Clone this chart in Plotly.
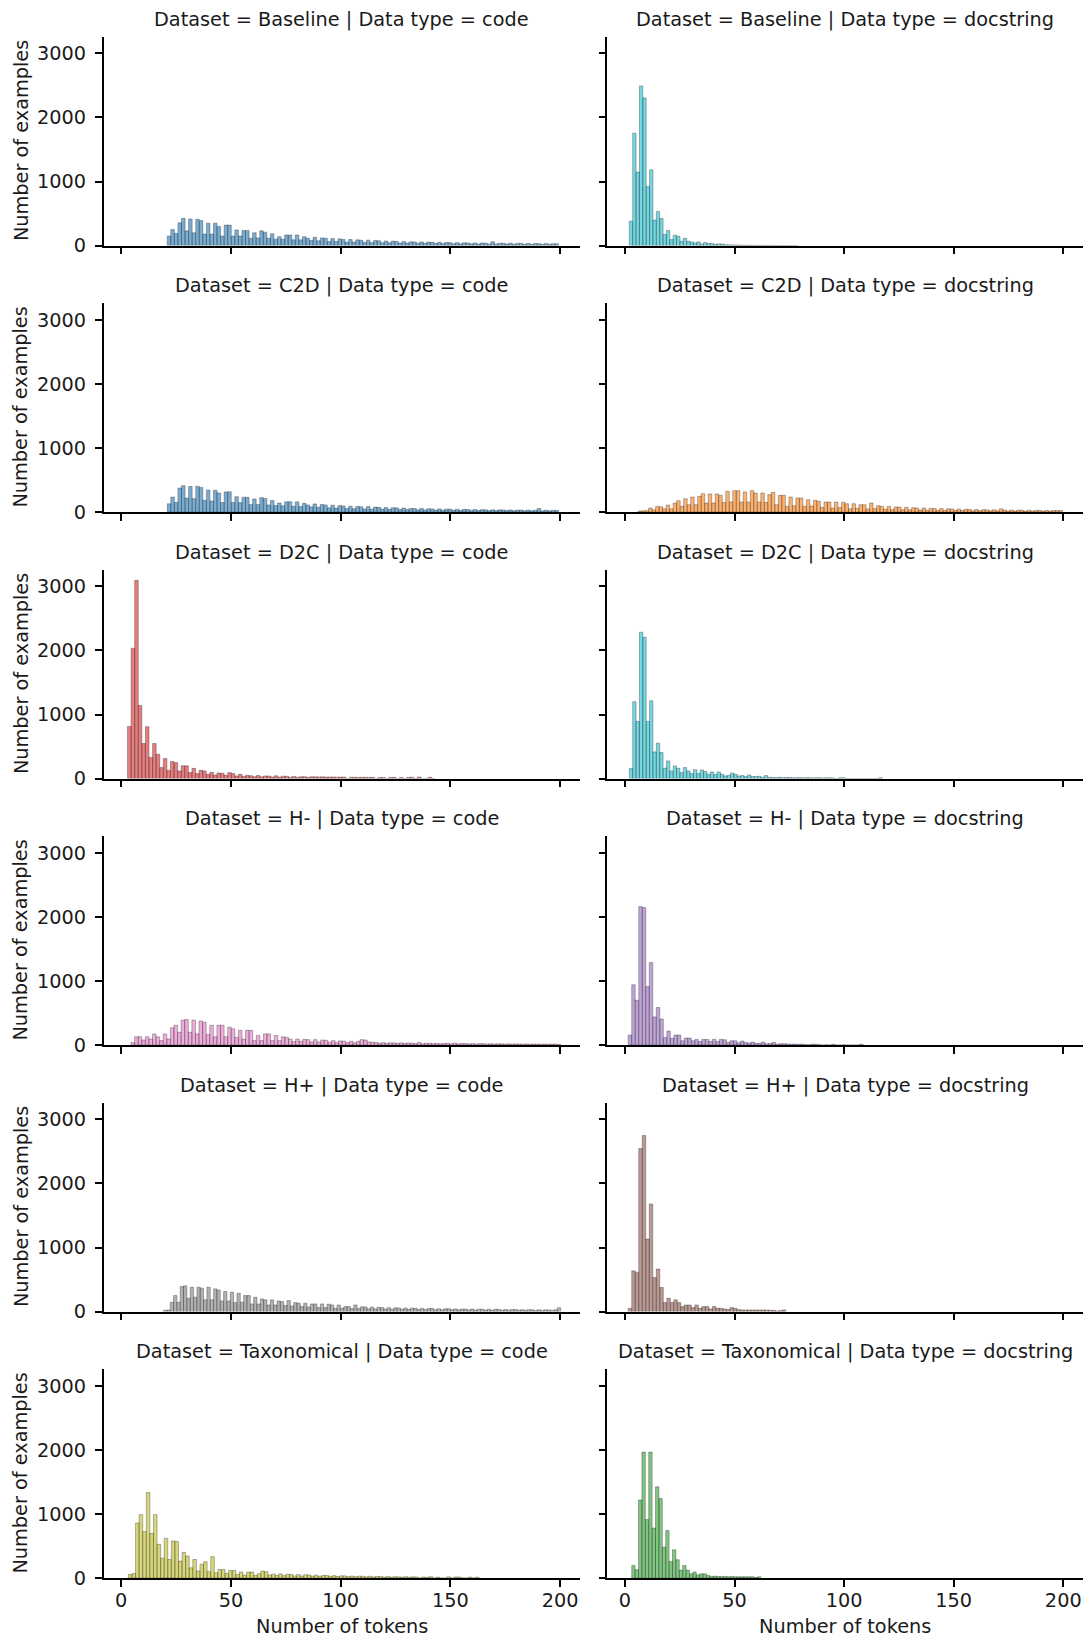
import plotly.graph_objects as go

# ---------------- data ----------------
DATASETS = ["Baseline", "C2D", "D2C", "H-", "H+", "Taxonomical"]
DATA_TYPES = ["code", "docstring"]
X_TICKS = [0, 50, 100, 150, 200]
Y_TICKS = [0, 1000, 2000, 3000]
X_LABEL = "Number of tokens"
Y_LABEL = "Number of examples"

# histogram counts per bin (bins start at BIN_START, width BIN_WIDTH)
BASELINE_CODE = [150, 250, 190, 355, 425, 230, 415, 200, 410, 390, 180, 350, 180, 350, 300, 150, 320, 320, 150, 245,
                 150, 235, 235, 115, 200, 120, 230, 210, 115, 185, 100, 140, 100, 165, 165, 90, 165, 90, 140, 115,
                 80, 130, 75, 120, 115, 65, 110, 65, 105, 95, 55, 95, 55, 90, 85, 50, 85, 48, 80, 75,
                 45, 72, 45, 70, 65, 40, 65, 40, 60, 58, 36, 58, 35, 55, 52, 32, 52, 32, 48, 46,
                 30, 46, 28, 44, 42, 27, 42, 26, 40, 38, 25, 60, 26, 38, 36, 24, 36, 22, 34, 33,
                 21, 33, 21, 32, 30, 20, 31, 20, 30, 28]
BASELINE_DOCSTRING = [382, 1754, 1147, 2492, 2304, 921, 1183, 398, 534, 424, 173, 236, 94, 162, 147, 68, 115, 68, 58, 42,
                      58, 26, 47, 31, 31, 21, 26, 26, 15, 12, 10, 8, 9, 6, 5, 6, 4, 3, 4, 3,
                      2, 2, 3, 1, 2, 1, 1, 0, 1, 1]
C2D_CODE = [130, 235, 152, 376, 413, 220, 400, 210, 402, 385, 185, 345, 175, 340, 300, 150, 315, 318, 150, 240,
            148, 232, 230, 118, 205, 118, 226, 212, 112, 182, 102, 142, 98, 160, 162, 92, 160, 88, 138, 112,
            82, 128, 76, 118, 112, 66, 108, 64, 102, 96, 56, 92, 54, 88, 84, 50, 86, 46, 78, 74,
            46, 70, 44, 68, 66, 40, 64, 40, 58, 56, 36, 56, 34, 54, 50, 32, 50, 31, 46, 46,
            30, 44, 28, 42, 40, 26, 40, 26, 38, 36, 24, 36, 25, 36, 34, 24, 34, 22, 32, 32,
            20, 32, 20, 30, 56, 20, 30, 20, 28, 26]
C2D_DOCSTRING = [16, 21, 21, 63, 37, 89, 84, 52, 110, 52, 141,
                 178, 90, 209, 115, 235, 115, 246, 288, 141, 283,
                 141, 283, 262, 150, 325, 160, 335, 335, 157, 314,
                 157, 335, 298, 157, 298, 150, 272, 309, 115, 262,
                 262, 89, 235, 100, 220, 220, 89, 194, 95, 183,
                 168, 73, 157, 157, 63, 157, 70, 152, 131, 52,
                 131, 60, 115, 115, 50, 141, 55, 100, 89, 45,
                 89, 40, 80, 78, 37, 75, 36, 68, 63, 33,
                 63, 31, 58, 55, 30, 55, 28, 52, 50, 26,
                 48, 26, 44, 42, 22, 40, 21, 37, 36, 20,
                 36, 20, 52, 33, 18, 31, 17, 30, 29, 16,
                 28, 16, 27, 26, 15, 26, 15, 25, 24, 24]
D2C_CODE = [815, 2035, 3095, 1140, 548, 810, 330, 548, 380, 172, 313, 130, 266, 250, 120, 200, 200, 94, 160, 78,
            130, 120, 68, 100, 57, 89, 83, 52, 94, 78, 42, 68, 36, 52,
            45, 30, 48, 28, 42, 40, 25, 44, 24, 38, 36, 22, 34, 22, 30, 30, 20, 28, 28, 26,
            28, 24, 26, 26, 22, 24, 24, 0, 22, 20, 18, 22, 20, 18, 20, 0, 18, 16, 0, 18,
            20, 0, 16, 0, 18, 22, 0, 26, 0, 0, 20, 0]
D2C_DOCSTRING = [156, 1200, 892, 2285, 2207, 892, 1215, 417, 553, 407, 162, 276, 120, 198, 162, 94, 172, 120, 78, 140,
                 78, 136, 110, 68, 104, 63, 104, 68, 42, 52, 89, 68, 42, 47, 31, 57, 31, 31, 36, 21,
                 47, 21,
                 18, 15, 20, 14, 16, 18, 12, 15, 16, 12, 14, 14, 10, 14, 12, 10, 12, 12, 9, 0,
                 14, 12, 0, 0, 0, 0, 0, 0, 0, 0, 0, 0, 14]
HMINUS_CODE = [40, 130, 130, 80, 130, 95, 175, 130, 70, 175, 95, 270, 310, 200, 390, 400, 200, 390, 175, 375,
               355, 165, 310, 130, 310, 310, 130, 280, 255, 120, 230, 95, 230, 230, 70, 150, 70, 175, 175, 70,
               150, 70, 130, 120,
               95, 55, 95, 60, 90, 85, 50, 85, 48, 80, 75, 45, 70, 42, 65, 62, 38, 60, 36, 58,
               85, 80, 50, 44, 40, 30, 38, 28, 36, 34, 26, 35, 25, 33, 32, 24, 40, 22, 30, 29,
               22, 28, 20, 27, 26, 19, 30, 18, 25, 24, 17, 24, 16, 23, 22, 15, 22, 15, 21, 20,
               14, 20, 14, 19, 18, 13, 18, 13, 17, 17, 12, 17, 12, 16, 16, 12]
HMINUS_DOCSTRING = [157, 942, 700, 2162, 2147, 916, 1288, 440, 586, 408, 120, 220, 105, 157, 157, 68, 110, 110, 68, 89,
                    58, 89, 89, 58, 89, 58, 89, 84, 42, 68, 68, 37, 63, 42, 31, 47, 26, 26, 47, 21,
                    26, 42, 16, 21, 21, 18, 15, 16, 12, 15,
                    8, 6, 14, 12, 6, 0, 5, 0, 12, 0, 0, 4, 0, 0, 0, 0, 12]
HPLUS_CODE = [21, 26, 146, 250, 146, 391, 402, 209, 381, 224, 381, 365, 183, 381, 183, 355, 339, 167, 313, 167,
              303, 141, 287, 146, 250, 250, 120, 224, 120, 198, 183, 104, 183, 104, 167, 157, 94, 172, 89, 141,
              130, 78, 130, 73, 120, 120, 63, 120, 63, 115, 104, 52, 104, 52, 78, 78, 47, 104, 47,
              75, 72, 44, 70, 42, 66, 64, 40, 62, 38, 60, 58, 36, 56, 35, 54, 52, 32, 50, 31,
              48, 47, 30, 46, 29, 45, 44, 28, 42, 27, 41, 40, 26, 39, 25, 38, 37, 24, 36, 23,
              35, 34, 22, 33, 22, 32, 31, 21, 30, 20, 30, 29, 19, 28, 19, 27, 26, 18, 30, 60]
HPLUS_DOCSTRING = [52, 636, 615, 2545, 2750, 1132, 1680, 532, 663, 376, 141, 209, 141, 183, 141, 78, 104, 104, 63, 104,
                   52, 78, 78, 42, 78, 52, 52, 42, 31, 63, 52, 31, 26, 26, 26, 26, 26, 26, 26, 26,
                   21, 21, 10, 16, 26]
TAXO_CODE = [57, 70, 860, 990, 725, 1335, 695, 990, 527, 313, 620, 290, 580, 570, 265, 400, 345, 160, 290, 110,
             215, 255, 100, 335, 84, 135, 135, 73, 120, 120, 57, 94, 47, 94, 94, 42, 68, 110, 100, 47,
             62, 40, 66, 38, 60, 58, 34, 55, 32, 52, 48, 30, 46, 28, 42, 40, 26, 38, 25, 36,
             34, 22, 32, 22, 30, 28, 20, 28, 18, 26, 24, 16, 24, 15, 22, 20, 14, 22, 14, 20,
             18, 0, 16, 12, 22, 0, 14, 0, 0, 20, 0, 18, 16, 0, 0, 16, 0, 14]
TAXO_DOCSTRING = [198, 130, 1220, 1967, 913, 1967, 782, 1424, 1241, 485, 741, 260, 443, 287, 125, 198, 125, 68, 94, 52,
                  68, 68, 42, 26, 31, 26, 26, 26, 21, 26, 21, 21, 21, 21, 21, 21, 10, 21]

COUNTS = {
    ("Baseline", "code"): BASELINE_CODE, ("Baseline", "docstring"): BASELINE_DOCSTRING,
    ("C2D", "code"): C2D_CODE, ("C2D", "docstring"): C2D_DOCSTRING,
    ("D2C", "code"): D2C_CODE, ("D2C", "docstring"): D2C_DOCSTRING,
    ("H-", "code"): HMINUS_CODE, ("H-", "docstring"): HMINUS_DOCSTRING,
    ("H+", "code"): HPLUS_CODE, ("H+", "docstring"): HPLUS_DOCSTRING,
    ("Taxonomical", "code"): TAXO_CODE, ("Taxonomical", "docstring"): TAXO_DOCSTRING,
}
BIN_START = {
    ("Baseline", "code"): 21.0, ("Baseline", "docstring"): 2.0,
    ("C2D", "code"): 21.0, ("C2D", "docstring"): 6.0,
    ("D2C", "code"): 2.9, ("D2C", "docstring"): 2.0,
    ("H-", "code"): 4.5, ("H-", "docstring"): 1.5,
    ("H+", "code"): 19.3, ("H+", "docstring"): 1.5,
    ("Taxonomical", "code"): 3.3, ("Taxonomical", "docstring"): 3.1,
}
BIN_WIDTH = {
    ("Baseline", "code"): 1.62, ("Baseline", "docstring"): 1.54,
    ("C2D", "code"): 1.62, ("C2D", "docstring"): 1.6,
    ("D2C", "code"): 1.63, ("D2C", "docstring"): 1.54,
    ("H-", "code"): 1.63, ("H-", "docstring"): 1.6,
    ("H+", "code"): 1.52, ("H+", "docstring"): 1.6,
    ("Taxonomical", "code"): 1.63, ("Taxonomical", "docstring"): 1.55,
}

# ---------------- style ----------------
COLORS = {
    ("Baseline", "code"): (31, 119, 180), ("Baseline", "docstring"): (23, 190, 207),
    ("C2D", "code"): (31, 119, 180), ("C2D", "docstring"): (255, 127, 14),
    ("D2C", "code"): (214, 39, 40), ("D2C", "docstring"): (23, 190, 207),
    ("H-", "code"): (227, 119, 194), ("H-", "docstring"): (148, 103, 189),
    ("H+", "code"): (127, 127, 127), ("H+", "docstring"): (140, 86, 75),
    ("Taxonomical", "code"): (188, 189, 34), ("Taxonomical", "docstring"): (44, 160, 44),
}

W, H = 1092, 1638
FONT = "DejaVu Sans"
FS = 19.3
TXT = "#1a1a1a"

COL_X = [(103.6, 580.0), (607.4, 1083.0)]
ROW_BOTTOM0 = 245.6
ROW_PITCH = 266.5
AX_H = 209.0
X_RANGE = [-8.0, 209.0]
Y_RANGE = [0, 3262]

fig = go.Figure()
annotations = []
layout_axes = {}

for r, ds in enumerate(DATASETS):
    yb = ROW_BOTTOM0 + ROW_PITCH * r
    yt = yb - AX_H
    for c, dt in enumerate(DATA_TYPES):
        k = r * 2 + c
        key = (ds, dt)
        xid = "x" if k == 0 else f"x{k + 1}"
        yid = "y" if k == 0 else f"y{k + 1}"
        counts = COUNTS[key]
        s, w = BIN_START[key], BIN_WIDTH[key]
        centers = [s + w * (i + 0.5) for i in range(len(counts))]
        rr, gg, bb = COLORS[key]
        fig.add_trace(go.Bar(
            x=centers, y=counts, width=[w] * len(counts),
            marker=dict(color=f"rgba({rr},{gg},{bb},0.6)",
                        line=dict(color="rgba(30,30,30,0.55)", width=0.6)),
            xaxis=xid, yaxis=yid, showlegend=False, hoverinfo="skip",
        ))
        x0, x1 = COL_X[c]
        common = dict(showline=True, linecolor="black", linewidth=1.5, ticks="outside",
                      ticklen=7, tickwidth=1.5, tickcolor="black", showgrid=False,
                      zeroline=False, automargin=False,
                      tickfont=dict(family=FONT, size=FS, color=TXT))
        layout_axes["xaxis" if k == 0 else f"xaxis{k + 1}"] = dict(
            common, domain=[x0 / W, x1 / W], anchor=yid, range=X_RANGE,
            tickmode="array", tickvals=X_TICKS, showticklabels=(r == len(DATASETS) - 1),
            ticklabelstandoff=-3)
        layout_axes["yaxis" if k == 0 else f"yaxis{k + 1}"] = dict(
            common, domain=[1 - yb / H, 1 - yt / H], anchor=xid, range=Y_RANGE,
            tickmode="array", tickvals=Y_TICKS, showticklabels=(c == 0),
            ticklabelstandoff=5)
        annotations.append(dict(
            text=f"Dataset = {ds} | Data type = {dt}", x=(x0 + x1) / 2 / W,
            y=1 - (yt - 17.5) / H, xref="paper", yref="paper", showarrow=False,
            xanchor="center", yanchor="middle", font=dict(family=FONT, size=FS, color=TXT)))
        if c == 0:
            annotations.append(dict(
                text=Y_LABEL, x=21 / W, y=1 - (yb + yt) / 2 / H, xref="paper", yref="paper",
                showarrow=False, textangle=-90, xanchor="center", yanchor="middle",
                font=dict(family=FONT, size=FS, color=TXT)))
        if r == len(DATASETS) - 1:
            annotations.append(dict(
                text=X_LABEL, x=(x0 + x1) / 2 / W, y=1 - 1626 / H, xref="paper", yref="paper",
                showarrow=False, xanchor="center", yanchor="middle",
                font=dict(family=FONT, size=FS, color=TXT)))

fig.update_layout(
    width=W, height=H, margin=dict(l=0, r=0, t=0, b=0),
    paper_bgcolor="white", plot_bgcolor="white", barmode="overlay",
    annotations=annotations, **layout_axes)

fig.write_html("out.html", config={"displayModeBar": False},
               post_script="document.body.style.margin='0';document.body.style.padding='0';")
